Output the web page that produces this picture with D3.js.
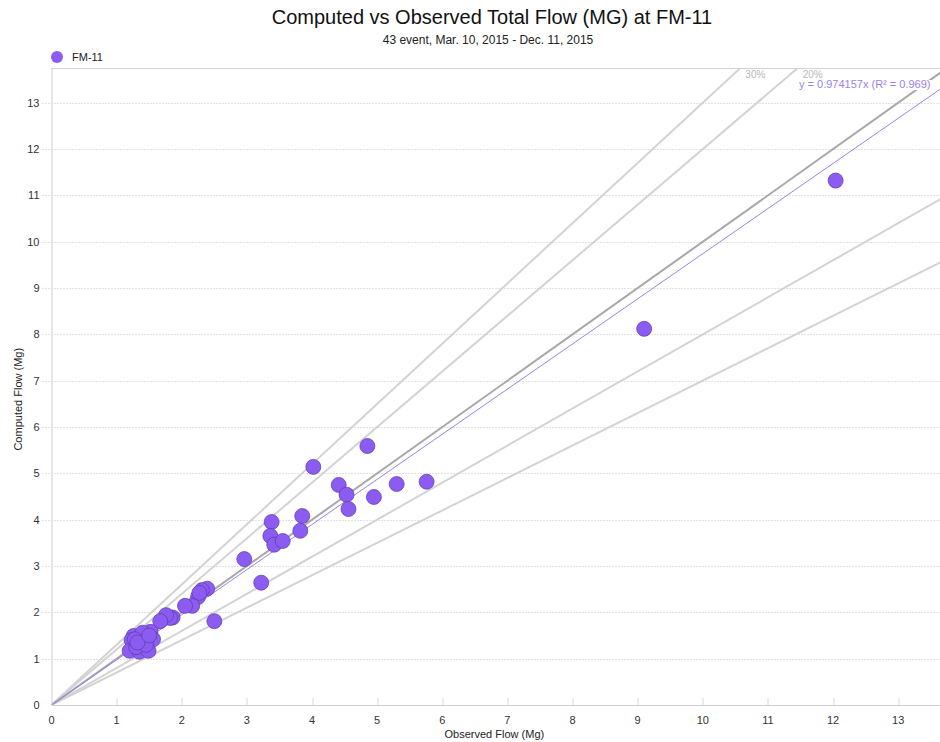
<!DOCTYPE html>
<html>
<head>
<meta charset="utf-8">
<script src="https://cdn.jsdelivr.net/npm/d3@7"></script>
<style>
  body { margin: 0; background: #fff; }
  text { font-family: "Liberation Sans", Arial, sans-serif; }
</style>
</head>
<body>
<svg id="chart"></svg>
<script>
// valores (Mg)
const observed = [
  12.04, 9.10, 4.85, 4.02, 4.41, 4.53, 4.56, 4.95, 5.30, 5.76,
  3.85, 3.38, 3.36, 3.42, 3.55, 3.82, 2.96, 3.22, 2.50, 2.39,
  2.31, 2.25, 2.27, 2.16, 2.05, 1.86, 1.82, 1.76, 1.67, 1.26,
  1.23, 1.41, 1.52, 1.56, 1.40, 1.20, 1.35, 1.49, 1.30, 1.28,
  1.45, 1.32, 1.50
];
const computed = [
  11.32, 8.12, 5.59, 5.14, 4.75, 4.54, 4.23, 4.49, 4.77, 4.82,
  4.08, 3.95, 3.65, 3.46, 3.54, 3.76, 3.15, 2.64, 1.81, 2.51,
  2.48, 2.33, 2.42, 2.14, 2.14, 1.89, 1.88, 1.94, 1.81, 1.49,
  1.40, 1.37, 1.58, 1.42, 1.56, 1.17, 1.15, 1.17, 1.25, 1.42,
  1.30, 1.35, 1.50
];
const xTicks = [0, 1, 2, 3, 4, 5, 6, 7, 8, 9, 10, 11, 12, 13];
const yTicks = [0, 1, 2, 3, 4, 5, 6, 7, 8, 9, 10, 11, 12, 13];
const slope = 0.974157;
const r2 = 0.969;
const envelopes = [
  { factor: 1.3, label: "30%" },
  { factor: 1.2, label: "20%" },
  { factor: 0.8, label: null },
  { factor: 0.7, label: null }
];

const width = 940, height = 742;
const margin = { top: 68, right: 0, bottom: 37, left: 51.5 };
const innerWidth = width - margin.left - margin.right;
const innerHeight = height - margin.top - margin.bottom;

const data = observed.map((o, i) => ({ obs: o, comp: computed[i] }));

const svg = d3.select("#chart").attr("width", width).attr("height", height);

const x = d3.scaleLinear().domain([0, 13.65]).range([0, innerWidth + 0.5]);
const y = d3.scaleLinear().domain([0, 13.75]).range([innerHeight, 0]);

// título
svg.append("text")
  .attr("x", 492).attr("y", 24)
  .attr("text-anchor", "middle")
  .style("font-size", "20px")
  .attr("fill", "#111")
  .text("Computed vs Observed Total Flow (MG) at FM-11");

svg.append("text")
  .attr("x", 488).attr("y", 44)
  .attr("text-anchor", "middle")
  .style("font-size", "12px")
  .attr("fill", "#222")
  .text("43 event, Mar. 10, 2015 - Dec. 11, 2015");

// legenda
svg.append("circle")
  .attr("cx", 57).attr("cy", 57).attr("r", 6)
  .attr("fill", "#8c5cf2");
svg.append("text")
  .attr("x", 72).attr("y", 61)
  .style("font-size", "11px")
  .attr("fill", "#222")
  .text("FM-11");

const g = svg.append("g")
  .attr("transform", `translate(${margin.left},${margin.top})`);

svg.append("defs").append("clipPath")
  .attr("id", "plot-clip")
  .append("rect")
  .attr("width", innerWidth + 1)
  .attr("height", innerHeight);

// linhas de grade pontilhadas
g.append("g")
  .selectAll("line")
  .data(yTicks.filter(d => d > 0))
  .join("line")
  .attr("x1", -9).attr("x2", innerWidth)
  .attr("y1", d => Math.round(y(d)) + 0.5)
  .attr("y2", d => Math.round(y(d)) + 0.5)
  .attr("stroke", "#c4c4c4")
  .attr("stroke-dasharray", "1,2");

// borda superior
g.append("line")
  .attr("x1", 0).attr("x2", innerWidth)
  .attr("y1", 0.5).attr("y2", 0.5)
  .attr("stroke", "#d4d4d4");

const lines = g.append("g").attr("clip-path", "url(#plot-clip)");
const xMax = x.domain()[1];

// envelopes ±20% e ±30% em torno da linha 1:1
envelopes.forEach(e => {
  lines.append("line")
    .attr("x1", x(0)).attr("y1", y(0))
    .attr("x2", x(xMax)).attr("y2", y(xMax * e.factor))
    .attr("stroke", "#d3d3d3")
    .attr("stroke-width", 2);
});

// linha 1:1
lines.append("line")
  .attr("x1", x(0)).attr("y1", y(0))
  .attr("x2", x(xMax)).attr("y2", y(xMax))
  .attr("stroke", "#a8a8a8")
  .attr("stroke-width", 2);

// regressão
lines.append("line")
  .attr("x1", x(0)).attr("y1", y(0))
  .attr("x2", x(xMax)).attr("y2", y(xMax * slope))
  .attr("stroke", "#9b80f2")
  .attr("stroke-width", 1);

// rótulo da regressão com fundo branco
const eq = g.append("text")
  .attr("x", 879)
  .attr("y", 20)
  .attr("text-anchor", "end")
  .style("font-size", "11px")
  .attr("fill", "#9b7ff2")
  .text(`y = ${slope}x (R² = ${r2})`);
const bb = eq.node().getBBox();
g.insert("rect", () => eq.node())
  .attr("x", bb.x - 2).attr("y", bb.y + 2)
  .attr("width", bb.width + 6).attr("height", bb.height - 2)
  .attr("fill", "#fff");

// rótulos dos envelopes
envelopes.filter(e => e.label).forEach(e => {
  const yTop = y.domain()[1];
  g.append("text")
    .attr("x", x(yTop / e.factor) + 5)
    .attr("y", 10)
    .style("font-size", "10px")
    .attr("fill", "#b8b8b8")
    .text(e.label);
});

// eixos
g.append("line")
  .attr("x1", 0.5).attr("x2", 0.5)
  .attr("y1", 0).attr("y2", innerHeight)
  .attr("stroke", "#cfcfcf");
g.append("line")
  .attr("x1", 0).attr("x2", innerWidth)
  .attr("y1", innerHeight + 0.5).attr("y2", innerHeight + 0.5)
  .attr("stroke", "#cfcfcf");

// marcas do eixo X (para cima)
g.append("g")
  .selectAll("line")
  .data(xTicks.filter(d => d > 0))
  .join("line")
  .attr("x1", d => Math.round(x(d)) + 0.5)
  .attr("x2", d => Math.round(x(d)) + 0.5)
  .attr("y1", innerHeight - 7)
  .attr("y2", innerHeight)
  .attr("stroke", "#d8d8d8");

g.append("g")
  .selectAll("text")
  .data(xTicks)
  .join("text")
  .attr("x", d => x(d))
  .attr("y", innerHeight + 19)
  .attr("text-anchor", "middle")
  .style("font-size", "11px")
  .attr("fill", "#333")
  .text(d => d);

g.append("g")
  .selectAll("text")
  .data(yTicks)
  .join("text")
  .attr("x", -12)
  .attr("y", d => y(d) + 4)
  .attr("text-anchor", "end")
  .style("font-size", "11px")
  .attr("fill", "#333")
  .text(d => d);

// títulos dos eixos
g.append("text")
  .attr("x", x(6.8))
  .attr("y", innerHeight + 33)
  .attr("text-anchor", "middle")
  .style("font-size", "11px")
  .attr("fill", "#222")
  .text("Observed Flow (Mg)");

g.append("text")
  .attr("transform", `translate(-30,${y(6.6)}) rotate(-90)`)
  .attr("text-anchor", "middle")
  .style("font-size", "11px")
  .attr("fill", "#222")
  .text("Computed Flow (Mg)");

// pontos
g.append("g")
  .selectAll("circle")
  .data(data)
  .join("circle")
  .attr("cx", d => x(d.obs))
  .attr("cy", d => y(d.comp))
  .attr("r", 7.5)
  .attr("fill", "#8c5cf2")
  .attr("stroke", "#5a3aa6")
  .attr("stroke-width", 0.7);
</script>
</body>
</html>
